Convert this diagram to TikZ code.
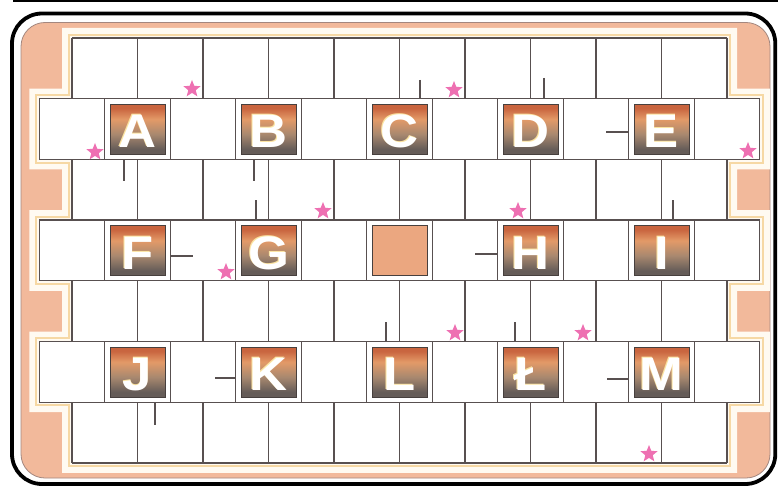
\documentclass[tikz,border=0pt]{standalone}
\usepackage{fontspec}
\usepackage{graphicx}
\usetikzlibrary{shapes.geometric}
\newfontfamily\boxfont{Liberation Sans}
\definecolor{peach}{HTML}{F2B99B}
\definecolor{gridc}{HTML}{585050}
\definecolor{stripe}{HTML}{FFFAF1}
\definecolor{stripey}{HTML}{F6D8A4}
\definecolor{innerl}{HTML}{A3877F}
\definecolor{pinkstar}{HTML}{EE70B2}
\definecolor{bxa}{HTML}{C9653F}
\definecolor{bxb}{HTML}{E39A68}
\definecolor{bxc}{HTML}{A8886F}
\definecolor{bxd}{HTML}{655C58}
\definecolor{blankc}{HTML}{EBA780}
\definecolor{glowc}{HTML}{FBE3A0}
\pgfdeclareverticalshading{boxgrad}{100bp}{color(0bp)=(bxd); color(25bp)=(bxd); color(30bp)=(bxd); color(45bp)=(bxc); color(60bp)=(bxb); color(71bp)=(bxa); color(75bp)=(bxa); color(100bp)=(bxa)}
\def\Ya{98.7}\def\Yb{159.4}\def\Yc{220.1}\def\Yd{280.8}\def\Ye{341.5}\def\Yf{402.2}\def\Yg{462.9}
\tikzset{
  gp/.style={insert path={(72-#1,38-#1) -- (727+#1,38-#1) -- (727+#1,\Ya-#1) -- (759.75+#1,\Ya-#1) -- (759.75+#1,\Yb+#1) -- (727+#1,\Yb+#1) -- (727+#1,\Yc-#1) -- (759.75+#1,\Yc-#1) -- (759.75+#1,\Yd+#1) -- (727+#1,\Yd+#1) -- (727+#1,\Ye-#1) -- (759.75+#1,\Ye-#1) -- (759.75+#1,\Yf+#1) -- (727+#1,\Yf+#1) -- (727+#1,\Yg+#1) -- (72-#1,\Yg+#1) -- (72-#1,\Yf+#1) -- (39.25-#1,\Yf+#1) -- (39.25-#1,\Ye-#1) -- (72-#1,\Ye-#1) -- (72-#1,\Yd+#1) -- (39.25-#1,\Yd+#1) -- (39.25-#1,\Yc-#1) -- (72-#1,\Yc-#1) -- (72-#1,\Yb+#1) -- (39.25-#1,\Yb+#1) -- (39.25-#1,\Ya-#1) -- (72-#1,\Ya-#1) -- cycle}},
  gridline/.style={draw=gridc, line width=1.35pt},
  wall/.style={draw=gridc, line width=1.35pt},
  lbox/.style={draw=bxd!70!black, line width=0.8pt, shade, shading=boxgrad, minimum width=55pt, minimum height=50pt, inner sep=0pt},
  blankbox/.style={draw=bxd!70!black, line width=0.8pt, fill=blankc, minimum width=55pt, minimum height=50pt, inner sep=0pt},
  ltr/.style={text=white, font=\boxfont\bfseries\fontsize{47}{47}\selectfont, inner sep=0pt, anchor=base},
  pstar/.style={star, star points=5, star point ratio=2.3, fill=pinkstar, minimum size=18pt, inner sep=0pt}
}
\begin{document}
\begin{tikzpicture}[x=1pt,y=-1pt]
\useasboundingbox (0,0) rectangle (778,489);
\fill[white] (0,0) rectangle (778,489);
% top page line
\draw[line width=2pt] (13,1) -- (778,1);
% frame
\draw[line width=3.8pt, fill=white, rounded corners=30pt] (12,13.5) rectangle (775.3,484);
\draw[innerl, line width=0.8pt, fill=peach, rounded corners=24pt] (21,22.5) rectangle (770,478);
\begin{scope}
  \clip[rounded corners=24pt] (21,22.5) rectangle (770,478);
  \fill[stripe, gp=10];
  \draw[stripey, line width=2pt, gp=3.2];
\end{scope}
\fill[white, gp=0];
% grid horizontal lines
\draw[gridline] (72,38) -- (727,38);
\foreach \y in {\Ya,\Yb,\Yc,\Yd,\Ye,\Yf} \draw[gridline] (39.25,\y) -- (759.75,\y);
\draw[gridline] (72,\Yg) -- (727,\Yg);
% short rows verticals
\foreach \t/\b in {38/\Ya,\Yb/\Yc,\Yd/\Ye,\Yf/\Yg}
  \foreach \j in {0,...,10} \draw[gridline] ({72+65.5*\j},\t) -- ({72+65.5*\j},\b);
% long rows verticals
\foreach \t/\b in {\Ya/\Yb,\Yc/\Yd,\Ye/\Yf}
  \foreach \j in {0,...,11} \draw[gridline] ({39.25+65.5*\j},\t) -- ({39.25+65.5*\j},\b);
% wall stubs
\draw[wall] (420,80) -- (420,\Ya);
\draw[wall] (544,78) -- (544,\Ya);
\draw[wall] (606,132) -- (628.75,132);
\draw[wall] (124,\Yb) -- (124,181);
\draw[wall] (254,\Yb) -- (254,181);
\draw[wall] (256,200) -- (256,\Yc);
\draw[wall] (673,200) -- (673,\Yc);
\draw[wall] (170.25,256) -- (192.5,256);
\draw[wall] (475,254) -- (497.75,254);
\draw[wall] (386,322) -- (386,\Ye);
\draw[wall] (515,322) -- (515,\Ye);
\draw[wall] (215,378) -- (235.75,378);
\draw[wall] (607,379) -- (628.75,379);
\draw[wall] (155,\Yf) -- (155,425);
% letter boxes
\foreach \n/\l/\k/\top in {a/A/1/\Ya, b/B/3/\Ya, c/C/5/\Ya, d/D/7/\Ya, e/E/9/\Ya,
  f/F/1/\Yc, g/G/3/\Yc, h/H/7/\Yc, i/I/9/\Yc,
  j/J/1/\Ye, k/K/3/\Ye, l/L/5/\Ye, ll/Ł/7/\Ye, m/M/9/\Ye}{
  \node[lbox] (box\n) at ({72+65.5*\k},{\top+30.6}) {};
  \node[ltr, text=glowc] (glow\n) at ({72+65.5*\k-0.6},{\top+48}) {\scalebox{1.12}[1]{\l}};
  \node[ltr] (let\n) at ({72+65.5*\k},{\top+49}) {\scalebox{1.12}[1]{\l}};
}
\node[blankbox] (boxblank) at (399.5,{\Yc+30.6}) {};
% stars
\foreach \sx/\sy [count=\i] in {192/89, 454/90, 95/152, 748/151, 323/211, 518/211, 226/272, 455/333, 583/333, 649/454}
  \node[pstar] (star\i) at (\sx,\sy) {};
\end{tikzpicture}
\end{document}
